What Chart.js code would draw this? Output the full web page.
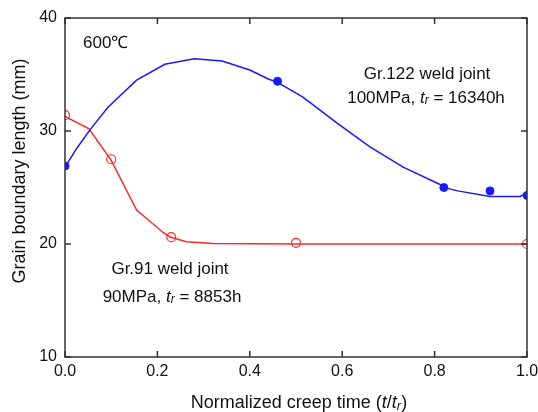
<!DOCTYPE html>
<html>
<head>
<meta charset="utf-8">
<script src="https://cdn.jsdelivr.net/npm/chart.js@4.4.1/dist/chart.umd.min.js"></script>
<style>
  html, body { margin: 0; padding: 0; background: #fff; }
  #wrap { width: 538px; height: 412px; position: relative; }
</style>
</head>
<body>
<div id="wrap"><canvas id="chart"></canvas></div>
<script>
// Gr.122 weld joint, 100MPa - fitted curve
const gr122CurveX = [0, 0.026, 0.054, 0.093, 0.155, 0.216, 0.28, 0.34, 0.40, 0.44, 0.46, 0.515, 0.589, 0.66, 0.732, 0.805, 0.83, 0.85, 0.92, 0.985, 1.0];
const gr122CurveY = [26.8, 28.5, 30.1, 32.1, 34.5, 35.9, 36.4, 36.2, 35.4, 34.6, 34.3, 33.0, 30.7, 28.6, 26.8, 25.4, 24.9, 24.7, 24.2, 24.2, 24.5];
// Gr.122 measured points
const gr122PointsX = [0, 0.46, 0.82, 0.92, 1.0];
const gr122PointsY = [26.9, 34.4, 25.0, 24.7, 24.3];

// Gr.91 weld joint, 90MPa - fitted curve
const gr91CurveX = [0, 0.052, 0.10, 0.155, 0.213, 0.229, 0.263, 0.32, 0.50, 1.0];
const gr91CurveY = [31.3, 30.2, 27.4, 23.0, 21.0, 20.6, 20.2, 20.05, 20.0, 20.0];
// Gr.91 measured points
const gr91PointsX = [0, 0.10, 0.23, 0.50, 1.0];
const gr91PointsY = [31.4, 27.5, 20.6, 20.1, 20.0];

const xTickValues = [0, 0.2, 0.4, 0.6, 0.8, 1.0];
const yTickValues = [10, 20, 30, 40];

const blue = 'rgb(25, 25, 255)';
const red = 'rgb(255, 40, 40)';
const FONT = '"Liberation Sans", Arial, sans-serif';

function toXY(xs, ys) {
    return xs.map((x, i) => ({ x: x, y: ys[i] }));
}

// frame with inward ticks on all four sides
const framePlugin = {
    id: 'frame',
    afterDatasetsDraw(chart) {
        const ctx = chart.ctx;
        const a = chart.chartArea;
        const xs = chart.scales.x;
        const ys = chart.scales.y;
        const len = 6;
        ctx.save();
        ctx.strokeStyle = '#333';
        ctx.lineWidth = 1.5;
        ctx.strokeRect(a.left, a.top, a.right - a.left, a.bottom - a.top);
        ctx.beginPath();
        xTickValues.forEach(v => {
            const px = xs.getPixelForValue(v);
            ctx.moveTo(px, a.bottom); ctx.lineTo(px, a.bottom - len);
            ctx.moveTo(px, a.top); ctx.lineTo(px, a.top + len);
        });
        yTickValues.forEach(v => {
            const py = ys.getPixelForValue(v);
            ctx.moveTo(a.left, py); ctx.lineTo(a.left + len, py);
            ctx.moveTo(a.right, py); ctx.lineTo(a.right - len, py);
        });
        ctx.stroke();
        ctx.restore();
    }
};

// draws a line of text made of parts with different fonts
function drawParts(ctx, parts, x, y, align) {
    let total = 0;
    parts.forEach(p => { ctx.font = p.font; total += ctx.measureText(p.text).width; });
    let cx = align === 'center' ? x - total / 2 : x;
    ctx.textAlign = 'left';
    ctx.textBaseline = 'middle';
    parts.forEach(p => {
        ctx.font = p.font;
        ctx.fillText(p.text, cx, y + (p.dy || 0));
        cx += ctx.measureText(p.text).width;
    });
}

const labelsPlugin = {
    id: 'labels',
    afterDraw(chart) {
        const ctx = chart.ctx;
        const n = '17px ' + FONT;
        const it = 'italic 17px ' + FONT;
        const sub = 'italic 12px ' + FONT;
        ctx.save();
        ctx.fillStyle = '#111';
        drawParts(ctx, [{ text: '600℃', font: n }], 83, 43, 'left');
        drawParts(ctx, [{ text: 'Gr.122 weld joint', font: n }], 427, 74, 'center');
        drawParts(ctx, [
            { text: '100MPa, ', font: n },
            { text: 't', font: it },
            { text: 'r', font: sub, dy: 3 },
            { text: ' = 16340h', font: n }
        ], 426, 98, 'center');
        drawParts(ctx, [{ text: 'Gr.91 weld joint', font: n }], 170, 269, 'center');
        drawParts(ctx, [
            { text: '90MPa, ', font: n },
            { text: 't', font: it },
            { text: 'r', font: sub, dy: 3 },
            { text: ' = 8853h', font: n }
        ], 172, 297, 'center');

        // x axis title
        const tn = '18px ' + FONT;
        const ti = 'italic 18px ' + FONT;
        const ts = 'italic 13px ' + FONT;
        drawParts(ctx, [
            { text: 'Normalized creep time (', font: tn },
            { text: 't', font: ti },
            { text: '/', font: tn },
            { text: 't', font: ti },
            { text: 'r', font: ts, dy: 3 },
            { text: ')', font: tn }
        ], 299, 403, 'center');

        // y axis title
        ctx.translate(20, 171);
        ctx.rotate(-Math.PI / 2);
        drawParts(ctx, [{ text: 'Grain boundary length (mm)', font: '18px ' + FONT }], 0, 0, 'center');
        ctx.restore();
    }
};

new Chart(document.getElementById('chart').getContext('2d'), {
    type: 'scatter',
    data: {
        datasets: [
            {
                data: toXY(gr122CurveX, gr122CurveY),
                showLine: true,
                borderColor: blue,
                borderWidth: 1.5,
                pointRadius: 0,
                clip: 0
            },
            {
                data: toXY(gr122PointsX, gr122PointsY),
                showLine: false,
                pointRadius: 4,
                pointBackgroundColor: blue,
                pointBorderColor: blue,
                clip: 0
            },
            {
                data: toXY(gr91CurveX, gr91CurveY),
                showLine: true,
                borderColor: red,
                borderWidth: 1.5,
                pointRadius: 0,
                clip: 0
            },
            {
                data: toXY(gr91PointsX, gr91PointsY),
                showLine: false,
                pointRadius: 4.5,
                pointBackgroundColor: '#fff',
                pointBorderColor: red,
                pointBorderWidth: 1.2,
                clip: 0
            }
        ]
    },
    options: {
        responsive: true,
        maintainAspectRatio: false,
        animation: false,
        events: [],
        layout: { padding: { top: 18, right: 11, left: 0, bottom: 0 } },
        plugins: {
            legend: { display: false },
            tooltip: { enabled: false }
        },
        scales: {
            x: {
                type: 'linear',
                min: 0,
                max: 1,
                afterFit: s => { s.height = 55; s.paddingLeft = 0; s.paddingRight = 0; },
                afterBuildTicks: s => { s.ticks = xTickValues.map(v => ({ value: v })); },
                grid: { display: false, drawTicks: false },
                border: { display: false },
                ticks: {
                    autoSkip: false,
                    maxRotation: 0,
                    padding: 5,
                    color: '#111',
                    font: { family: FONT, size: 16 },
                    callback: v => v.toFixed(1)
                }
            },
            y: {
                type: 'linear',
                min: 10,
                max: 40,
                afterFit: s => { s.width = 65; s.paddingTop = 0; s.paddingBottom = 0; },
                afterBuildTicks: s => { s.ticks = yTickValues.map(v => ({ value: v })); },
                grid: { display: false, drawTicks: false },
                border: { display: false },
                ticks: {
                    padding: 8,
                    color: '#111',
                    font: { family: FONT, size: 16 },
                    callback: v => String(v)
                }
            }
        }
    },
    plugins: [framePlugin, labelsPlugin]
});
</script>
</body>
</html>
